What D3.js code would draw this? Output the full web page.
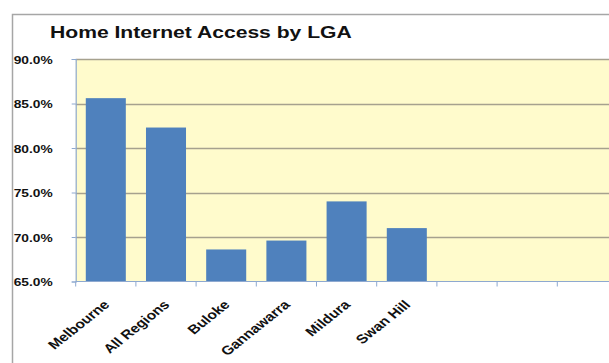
<!DOCTYPE html>
<html><head><meta charset="utf-8">
<script src="https://cdn.jsdelivr.net/npm/d3@7"></script>
<style>html,body{margin:0;padding:0;background:#fff;overflow:hidden}</style>
</head><body>
<svg id="c" width="609" height="363"></svg>
<script>
const title = "Home Internet Access by LGA";
const categories = ["Melbourne","All Regions","Buloke","Gannawarra","Mildura","Swan Hill"];
const values = [85.6, 82.3, 68.6, 69.6, 74.0, 71.0];
const emptySlots = 4;
const yTicks = [65, 70, 75, 80, 85, 90];

const svg = d3.select("#c");
const mLeft = 75.7, mTop = 59, mBottom = 281.5, band = 60.2;
const FONT = "Liberation Sans, Arial, sans-serif";
const domain = categories.concat(d3.range(emptySlots).map(i => "__empty" + i));
const x = d3.scaleBand().domain(domain).range([mLeft, mLeft + band * domain.length]).paddingInner(0.335).paddingOuter(0.1675);
const y = d3.scaleLinear().domain([65, 90]).range([mBottom, mTop]);

// chart border
svg.append("path").attr("d", `M12.5,363 V14.5 H609`).attr("fill","none").attr("stroke","#a6a6a6").attr("stroke-width",1.5);

// title
svg.append("text").attr("transform", `translate(50,37.5) scale(1.32,1)`).text(title)
  .attr("font-family",FONT).attr("font-weight","bold").attr("font-size",16).attr("fill","#111");

// plot area
svg.append("rect").attr("x", mLeft).attr("y", mTop).attr("width", 609 - mLeft).attr("height", mBottom - mTop).attr("fill", "#fffbcc");

// gridlines
svg.append("g").selectAll("line").data(yTicks.slice(1)).join("line")
  .attr("x1", mLeft).attr("x2", 609).attr("y1", d => Math.round(y(d)) + 0.5).attr("y2", d => Math.round(y(d)) + 0.5)
  .attr("stroke", "#a6a18e").attr("stroke-width", 1.3);

// bars
svg.append("g").selectAll("rect").data(values).join("rect")
  .attr("x", (d, i) => x(categories[i])).attr("width", x.bandwidth())
  .attr("y", d => y(d)).attr("height", d => y(65) - y(d))
  .attr("fill", "#4f81bd");

// y axis
const yAxis = d3.axisLeft(y).tickValues(yTicks).tickSize(4).tickFormat(d => d.toFixed(1) + "%");
const gy = svg.append("g").attr("transform", `translate(${mLeft},0)`).call(yAxis);
gy.select(".domain").attr("stroke", "#8ea9d0").attr("stroke-width", 1.2);
gy.selectAll(".tick line").attr("stroke", "#8ea9d0");
gy.selectAll(".tick text").attr("x", null).attr("dy", null)
  .attr("transform", `translate(-62,4) scale(1.25,1)`).attr("text-anchor", "start")
  .attr("font-family",FONT).attr("font-weight","bold").attr("font-size",11).attr("fill","#111");

// x axis
const gx = svg.append("g").attr("transform", `translate(0,${mBottom})`);
gx.append("line").attr("x1", mLeft).attr("x2", 609).attr("stroke", "#8ea9d0").attr("stroke-width", 1.2);
const bounds = d3.range(domain.length + 1).map(i => mLeft + band * i);
gx.selectAll("line.tk").data(bounds).join("line").attr("class","tk")
  .attr("x1", d => d).attr("x2", d => d).attr("y1", 0).attr("y2", 5).attr("stroke", "#8ea9d0");
gx.selectAll("text").data(categories).join("text")
  .attr("transform", d => `translate(${x(d) + x.bandwidth()/2 + 4.5},${24}) scale(1.25,1) rotate(-45)`)
  .attr("text-anchor", "end")
  .attr("font-family",FONT).attr("font-weight","bold").attr("font-size",12.5).attr("fill","#111")
  .text(d => d);
</script>
</body></html>
